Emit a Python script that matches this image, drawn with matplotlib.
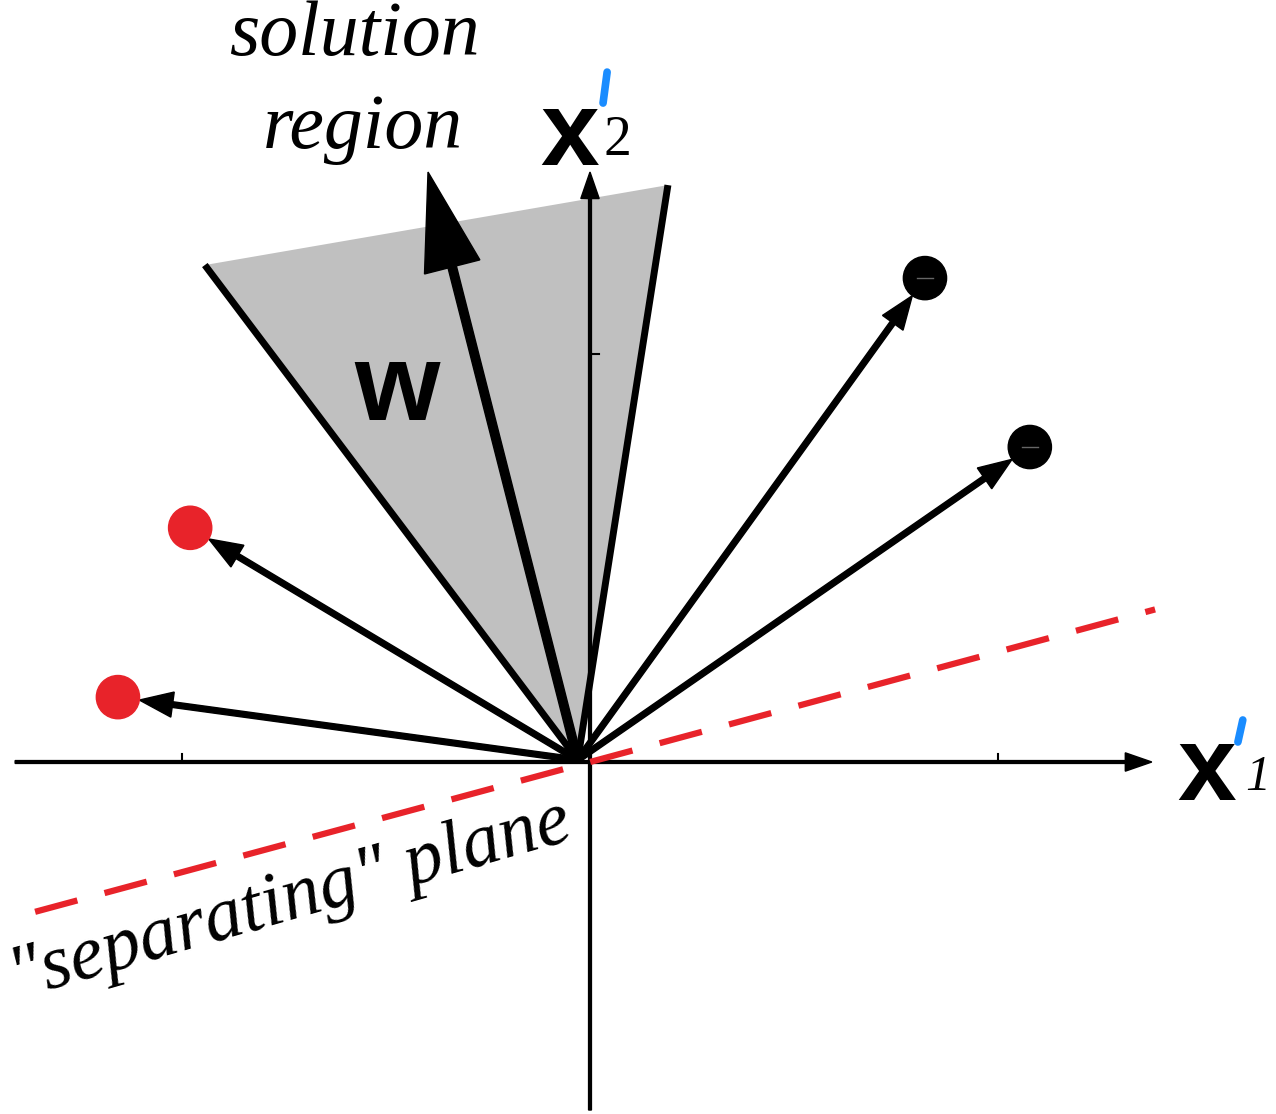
import numpy as np
import matplotlib.pyplot as plt
from matplotlib.patches import Circle, Polygon

# geometry in axis units (1 unit = one tick spacing)
origin = (-0.03, 0.005)

# solution region (cone) edges and weight vector
region_left = (-0.944, 1.218)
region_right = (0.191, 1.414)
w_tip = (-0.397, 1.446)

# samples: negated class-2 (black) and class-1 (red)
black_x = [0.821, 1.078]
black_y = [1.186, 0.772]
red_x = [-0.980, -1.157]
red_y = [0.574, 0.159]

# "separating" plane
plane_x = [-1.36, 1.385]
plane_slope = 0.27

ticks_x = [-1.0, 1.0]
ticks_y = [1.0]

R = 0.053  # marker radius

fig = plt.figure(figsize=(12.76, 11.14), dpi=100)
ax = fig.add_axes([0, 0, 1, 1])
ax.set_xlim(-590 / 408, (1276 - 590) / 408)
ax.set_ylim(-(1114 - 762) / 408, 762 / 408)
ax.set_aspect('equal')
ax.axis('off')

# shaded region
ax.add_patch(Polygon([origin, region_left, region_right], closed=True,
                     facecolor='#c0c0c0', edgecolor='none', zorder=1))

# coordinate axes
ax.arrow(-1.409, 0, 2.786, 0, width=0.007, head_width=0.045,
         head_length=0.065, length_includes_head=True, color='black', zorder=2)
ax.arrow(0, -0.853, 0, 2.299, width=0.007, head_width=0.045,
         head_length=0.065, length_includes_head=True, color='black', zorder=2)
for t in ticks_x:
    ax.plot([t, t], [0, 0.02], color='black', lw=1.5, zorder=2)
for t in ticks_y:
    ax.plot([0, 0.022], [t, t], color='black', lw=1.5, zorder=2)

# region edges
for px, py in [region_left, region_right]:
    ax.plot([origin[0], px], [origin[1], py], color='black', lw=5,
            solid_capstyle='butt', zorder=3)

# weight vector
ax.arrow(origin[0], origin[1], w_tip[0] - origin[0], w_tip[1] - origin[1],
         width=0.021, head_width=0.14, head_length=0.24,
         length_includes_head=True, color='black', zorder=4)

# sample vectors
for xs, ys, col in [(black_x, black_y, 'black'), (red_x, red_y, '#e8232a')]:
    for px, py in zip(xs, ys):
        d = np.array([px - origin[0], py - origin[1]])
        d = d - d / np.linalg.norm(d) * R
        ax.arrow(origin[0], origin[1], d[0], d[1], width=0.014,
                 head_width=0.062, head_length=0.082,
                 length_includes_head=True, color='black', zorder=4)
        ax.add_patch(Circle((px, py), R, color=col, zorder=5))
        if col == 'black':
            ax.plot([px - 0.02, px + 0.02], [py, py], color='#666666',
                    lw=1, zorder=6)

# separating plane
plane_y = [plane_slope * x for x in plane_x]
ax.plot(plane_x, plane_y, color='#e8232a', lw=4.5,
        linestyle=(0, (7.0, 4.5)), zorder=6)

# labels
serif = 'Liberation Serif'
sans = 'Liberation Sans'
ax.text(-0.578, 1.733, 'solution', fontsize=56, family=serif, style='italic',
        ha='center', va='baseline')
ax.text(-0.556, 1.505, 'region', fontsize=56, family=serif, style='italic',
        ha='center', va='baseline')
ax.text(-1.405, -0.581, '"separating" plane', fontsize=55, family=serif,
        style='italic', ha='left', va='baseline', rotation=16,
        rotation_mode='anchor')
ax.text(-0.473, 0.838, 'w', fontsize=79, family=sans, weight='bold',
        ha='center', va='baseline')

# axis labels x'_2 and x'_1
ax.text(-0.049, 1.463, 'x', fontsize=76, family=sans, weight='bold',
        ha='center', va='baseline')
ax.text(0.032, 1.488, '2', fontsize=40, family=serif, ha='left',
        va='baseline')
ax.plot([0.042, 0.032], [1.691, 1.615], color='#1a8cff', lw=5.5,
        solid_capstyle='round', zorder=7)
ax.text(1.512, -0.093, 'x', fontsize=76, family=sans, weight='bold',
        ha='center', va='baseline')
ax.text(1.605, -0.069, '1', fontsize=36, family=serif, style='italic',
        ha='left', va='baseline')
ax.plot([1.600, 1.588], [0.103, 0.049], color='#1a8cff', lw=5.5,
        solid_capstyle='round', zorder=7)

fig.savefig('out.png', dpi=100)
